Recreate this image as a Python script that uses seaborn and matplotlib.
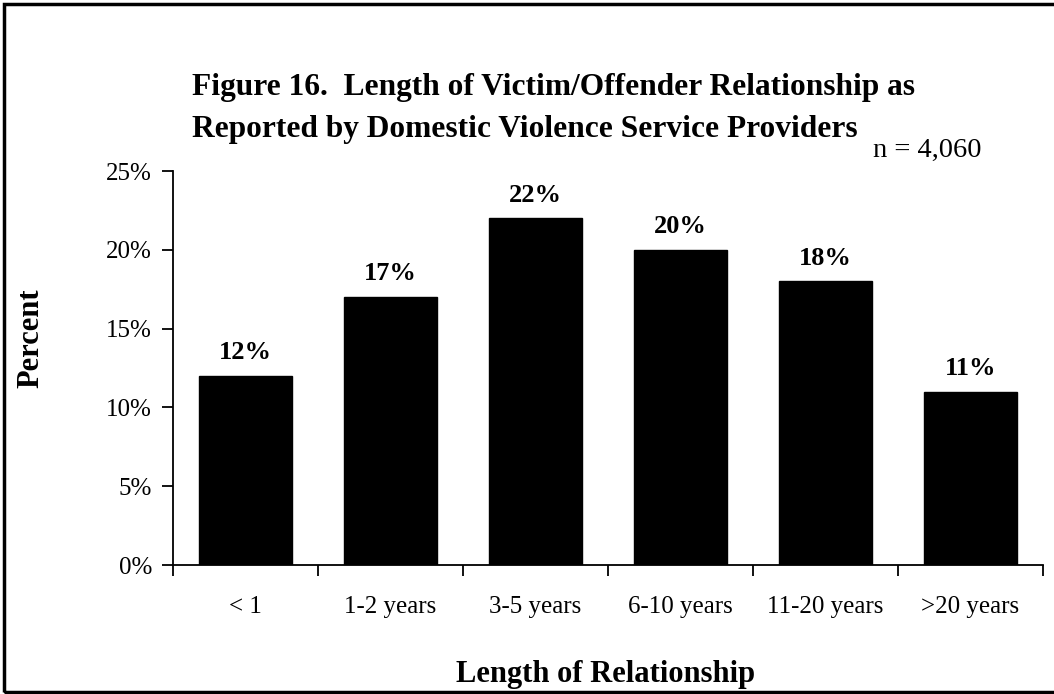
import matplotlib
matplotlib.use("Agg")
import matplotlib.pyplot as plt
import seaborn as sns
import pandas as pd
from matplotlib.patches import Rectangle
from matplotlib.ticker import FixedLocator, PercentFormatter

categories = ["< 1", "1-2 years", "3-5 years", "6-10 years", "11-20 years", ">20 years"]
values = [12, 17, 22, 20, 18, 11]
bar_labels = ["12%", "17%", "22%", "20%", "18%", "11%"]
yticks = [0, 5, 10, 15, 20, 25]

sns.set_theme(style="white")
plt.rcParams["font.family"] = ["Liberation Serif", "DejaVu Serif"]
plt.rcParams["text.color"] = "black"
plt.rcParams["xtick.color"] = "black"
plt.rcParams["ytick.color"] = "black"

df = pd.DataFrame({"cat": categories, "val": values})

fig = plt.figure(figsize=(10.54, 6.94), dpi=100)
ax = fig.add_axes([173/1054, 1-565/694, 870/1054, 394/694])

sns.barplot(data=df, x="cat", y="val", color="black", width=0.64, ax=ax,
            saturation=1, edgecolor="black")

ax.set_xlim(-0.5, len(categories) - 0.5)
ax.set_ylim(0, 25)
ax.set_yticks(yticks)
ax.yaxis.set_major_formatter(PercentFormatter(decimals=0))
ax.xaxis.set_minor_locator(FixedLocator([i - 0.5 for i in range(len(categories) + 1)]))
ax.tick_params(axis="x", which="major", length=0, pad=22, labelsize=18, labelcolor="black")
ax.tick_params(axis="x", which="minor", length=8, width=1.3, direction="out", color="black", bottom=True)
ax.tick_params(axis="y", which="major", length=8, width=1.3, direction="out", left=True,
               labelsize=18, labelcolor="black", pad=7)
for s in ["top", "right"]:
    ax.spines[s].set_visible(False)
for s in ["left", "bottom"]:
    ax.spines[s].set_color("black")
    ax.spines[s].set_linewidth(1.3)
ax.set_xlabel("")
ax.set_ylabel("")

for p, lab in zip(ax.patches, bar_labels):
    ax.annotate(lab, (p.get_x() + p.get_width() / 2, p.get_height()),
                xytext=(0, 12), textcoords="offset points", ha="center", va="baseline",
                fontsize=19, fontweight="bold", color="black")

fig.text(192/1054, 1-87/694, "Figure 16.  Length of Victim/Offender Relationship as",
         fontsize=22.6, fontweight="bold", ha="left", va="center")
fig.text(192/1054, 1-129/694, "Reported by Domestic Violence Service Providers",
         fontsize=22.6, fontweight="bold", ha="left", va="center")
fig.text(873/1054, 1-150/694, "n = 4,060", fontsize=20.5, ha="left", va="center")
fig.text(31/1054, 1-338/694, "Percent", fontsize=22, fontweight="bold", rotation=90,
         ha="center", va="center")
fig.text(606/1054, 1-682/694, "Length of Relationship", fontsize=22, fontweight="bold",
         ha="center", va="baseline")

fig.patches.append(Rectangle((4/1054, 2.5/694), 1.02, 1 - 6/694, transform=fig.transFigure,
                             fill=False, edgecolor="black", linewidth=2.5))

fig.savefig("out.png", dpi=100)
